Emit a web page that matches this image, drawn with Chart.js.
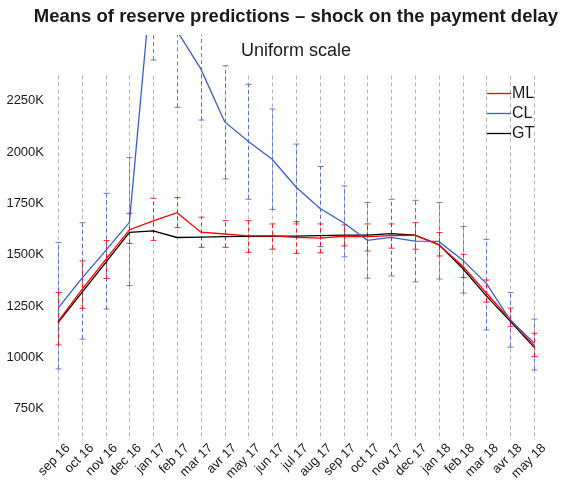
<!DOCTYPE html>
<html>
<head>
<meta charset="utf-8">
<script src="https://cdn.jsdelivr.net/npm/chart.js@4.4.1/dist/chart.umd.min.js"></script>
<style>
  html, body { margin: 0; padding: 0; background: #ffffff; }
  #wrap { width: 561px; height: 480px; }
</style>
</head>
<body>
<div id="wrap"><canvas id="chartReserves" width="561" height="480"></canvas></div>
<script>
// ---- data (thousands) ----
const months = ['sep 16', 'oct 16', 'nov 16', 'dec 16', 'jan 17', 'feb 17', 'mar 17', 'avr 17', 'may 17', 'jun 17', 'jul 17',
                'aug 17', 'sep 17', 'oct 17', 'nov 17', 'dec 17', 'jan 18', 'feb 18', 'mar 18', 'avr 18', 'may 18'];

const mlMean = [1176, 1330, 1476, 1622, 1665, 1705, 1610, 1601, 1592, 1592, 1585, 1581, 1590, 1588, 1593, 1595, 1548, 1445, 1314, 1185, 1060];
const mlLow  = [1061, 1239, 1384, 1555, 1570, 1632, 1536, 1536, 1512, 1527, 1507, 1510, 1543, 1518, 1532, 1527, 1494, 1389, 1269, 1150, 1004];
const mlHigh = [1316, 1470, 1569, 1702, 1775, 1778, 1683, 1666, 1666, 1650, 1661, 1650, 1645, 1650, 1650, 1656, 1608, 1502, 1377, 1240, 1118];

const clMean = [1240, 1385, 1520, 1658, 2930, 2590, 2405, 2148, 2051, 1965, 1830, 1726, 1656, 1570, 1585, 1566, 1565, 1475, 1361, 1183, 1072];
const clLow  = [944, 1089, 1236, 1350, 2448, 2218, 2156, 1869, 1770, 1721, 1650, 1540, 1490, 1386, 1397, 1368, 1382, 1313, 1134, 1050, 939];
const clHigh = [1560, 1656, 1799, 1973, 3410, 2960, 2650, 2420, 2330, 2210, 2039, 1930, 1835, 1754, 1770, 1765, 1754, 1637, 1575, 1316, 1187];

const gtMean = [1170, 1316, 1462, 1609, 1616, 1584, 1586, 1588, 1589, 1590, 1591, 1593, 1596, 1596, 1603, 1595, 1550, 1434, 1300, 1177, 1050];

const yTicks = [750, 1000, 1250, 1500, 1750, 2000, 2250];

// ---- style ----
const FONT = '"Liberation Sans", Arial, Helvetica, sans-serif';
const RED = '#ff0000';
const BLUE = '#3a5fcd';
const BLACK = '#000000';
const GRID_TOP = 2373;   // gray dashed lines stop here (in y units)

const toXY = arr => arr.map((v, i) => ({ x: i, y: v }));

function drawErrorBars(ctx, xs, ys, low, high, color) {
    ctx.strokeStyle = color;
    ctx.lineWidth = 1;
    low.forEach((lo, i) => {
        const px = Math.round(xs.getPixelForValue(i)) + 0.5;
        const y1 = ys.getPixelForValue(lo);
        const y2 = ys.getPixelForValue(high[i]);
        ctx.setLineDash([4, 3]);
        ctx.beginPath();
        ctx.moveTo(px, y1);
        ctx.lineTo(px, y2);
        ctx.stroke();
        ctx.setLineDash([]);
        ctx.beginPath();
        ctx.moveTo(px - 3, y1); ctx.lineTo(px + 3, y1);
        ctx.moveTo(px - 3, y2); ctx.lineTo(px + 3, y2);
        ctx.stroke();
    });
}

const decorPlugin = {
    id: 'decor',
    beforeDatasetsDraw(chart) {
        const { ctx, chartArea, scales } = chart;
        const xs = scales.x, ys = scales.y;
        ctx.save();
        // vertical dashed grid
        ctx.strokeStyle = '#b5b5b5';
        ctx.lineWidth = 1;
        ctx.setLineDash([4, 3]);
        const gTop = ys.getPixelForValue(GRID_TOP);
        months.forEach((m, i) => {
            const px = Math.round(xs.getPixelForValue(i)) + 0.5;
            ctx.beginPath();
            ctx.moveTo(px, gTop);
            ctx.lineTo(px, chartArea.bottom);
            ctx.stroke();
        });
        // error bars (clipped to plot)
        ctx.beginPath();
        ctx.rect(chartArea.left, chartArea.top, chartArea.right - chartArea.left, chartArea.bottom - chartArea.top);
        ctx.clip();
        drawErrorBars(ctx, xs, ys, clLow, clHigh, 'rgba(58, 95, 205, 0.8)');
        drawErrorBars(ctx, xs, ys, mlLow, mlHigh, 'rgba(255, 0, 0, 0.85)');
        ctx.restore();
    },
    afterDraw(chart) {
        const { ctx, chartArea, scales } = chart;
        const cx = scales.x.getPixelForValue(10);
        ctx.save();
        ctx.fillStyle = '#1a1a1a';
        ctx.textAlign = 'center';
        ctx.textBaseline = 'middle';
        ctx.font = 'bold 18.5px ' + FONT;
        ctx.fillText('Means of reserve predictions \u2013 shock on the payment delay', cx, 17);
        ctx.font = '18px ' + FONT;
        ctx.fillText('Uniform scale', cx, 51);

        // rotated month labels (45 deg, right end near the tick)
        ctx.font = '13px ' + FONT;
        ctx.textAlign = 'right';
        ctx.textBaseline = 'middle';
        months.forEach((m, i) => {
            const px = scales.x.getPixelForValue(i);
            ctx.save();
            ctx.translate(px + 10, chartArea.bottom + 6);
            ctx.rotate(-Math.PI / 4);
            ctx.fillText(m, 0, 0);
            ctx.restore();
        });

        // legend
        const items = [['ML', RED], ['CL', BLUE], ['GT', BLACK]];
        ctx.font = '16px ' + FONT;
        ctx.textAlign = 'left';
        items.forEach(([name, col], k) => {
            const ly = 93 + k * 20;
            ctx.strokeStyle = col;
            ctx.lineWidth = 1.3;
            ctx.beginPath();
            ctx.moveTo(487, ly + 0.5);
            ctx.lineTo(511, ly + 0.5);
            ctx.stroke();
            ctx.fillStyle = '#1a1a1a';
            ctx.fillText(name, 512, ly + 1);
        });
        ctx.restore();
    }
};

const ctx = document.getElementById('chartReserves');
new Chart(ctx, {
    type: 'line',
    data: {
        datasets: [
            { label: 'CL', data: toXY(clMean), borderColor: BLUE, borderWidth: 1.3, pointRadius: 0, tension: 0 },
            { label: 'ML', data: toXY(mlMean), borderColor: RED, borderWidth: 1.3, pointRadius: 0, tension: 0 },
            { label: 'GT', data: toXY(gtMean), borderColor: BLACK, borderWidth: 1.3, pointRadius: 0, tension: 0 }
        ]
    },
    options: {
        responsive: false,
        animation: false,
        devicePixelRatio: 1,
        layout: { padding: { top: 35, right: 14, left: 0, bottom: 0 } },
        plugins: {
            legend: { display: false },
            title: { display: false },
            tooltip: { enabled: false }
        },
        scales: {
            x: {
                type: 'linear',
                min: -0.17,
                max: 20.55,
                grid: { display: false },
                border: { display: false },
                afterBuildTicks: s => { s.ticks = months.map((m, i) => ({ value: i })); },
                afterFit: s => { s.height = 40; },
                ticks: { display: false }
            },
            y: {
                type: 'linear',
                min: 598,
                max: 2570,
                grid: { display: false },
                border: { display: false },
                afterBuildTicks: s => { s.ticks = yTicks.map(v => ({ value: v })); },
                afterFit: s => { s.width = 54; },
                ticks: {
                    padding: 2,
                    color: '#1a1a1a',
                    font: { family: FONT, size: 13 },
                    callback: v => v + 'K'
                }
            }
        }
    },
    plugins: [decorPlugin]
});
</script>
</body>
</html>
